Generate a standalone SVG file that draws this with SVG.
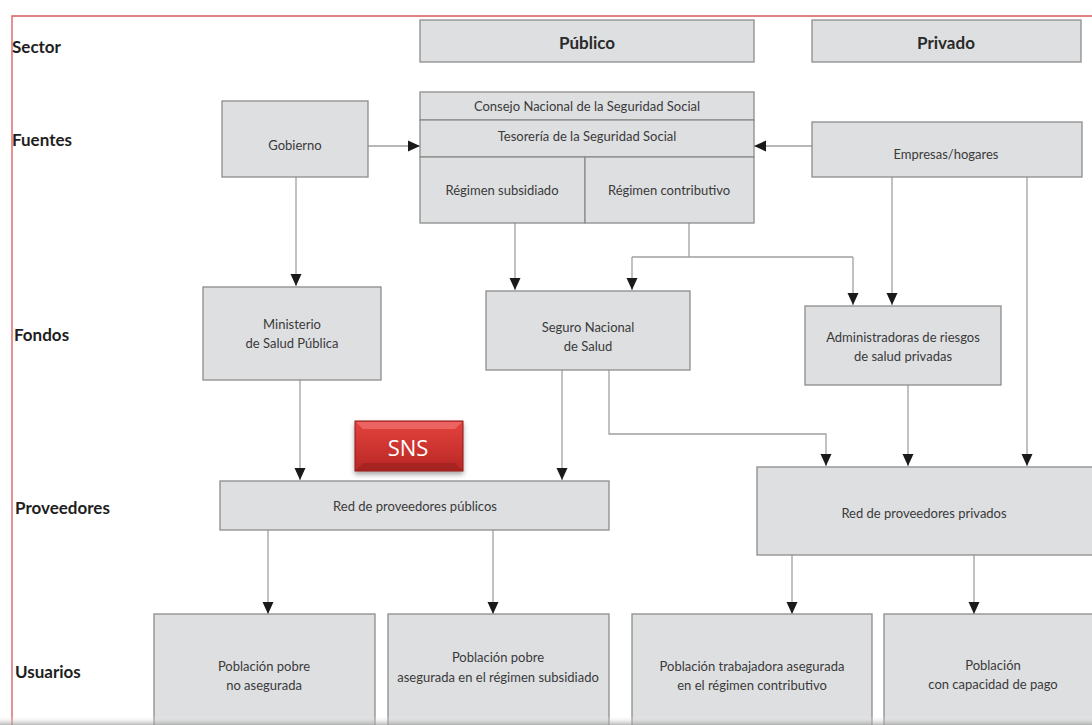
<svg xmlns="http://www.w3.org/2000/svg" width="1092" height="725" viewBox="0 0 1092 725">
<defs>
<style>
.box{fill:#dedfe1;stroke:#8c8c8c;stroke-width:1.3}
.t{font-family:Lato,"Open Sans",sans-serif;font-size:13px;fill:#3a3a3a;text-anchor:middle;dominant-baseline:central}
.lab{font-family:Lato,"Open Sans",sans-serif;font-size:17px;font-weight:bold;fill:#1e1e1e;dominant-baseline:central}
.hd{font-family:Lato,"Open Sans",sans-serif;font-size:17px;font-weight:bold;fill:#2a2a2a;text-anchor:middle;dominant-baseline:central}
.c{fill:none;stroke:#a0a0a0;stroke-width:1.3}
.ca{fill:none;stroke:#a0a0a0;stroke-width:1.3;marker-end:url(#ah)}
</style>
<marker id="ah" markerUnits="userSpaceOnUse" markerWidth="12" markerHeight="14" viewBox="0 0 12 14" refX="12" refY="7" orient="auto">
<path d="M0,1.5 L12,7 L0,12.5 Z" fill="#1a1a1a"/>
</marker>
<linearGradient id="red" x1="0" y1="0" x2="0" y2="1">
<stop offset="0" stop-color="#e5433f"/>
<stop offset="1" stop-color="#b82724"/>
</linearGradient>
<linearGradient id="shade" x1="0" y1="0" x2="0" y2="1">
<stop offset="0" stop-color="#ffffff" stop-opacity="0"/>
<stop offset="1" stop-color="#9a9a9a" stop-opacity="0.7"/>
</linearGradient>
<filter id="ds" x="-20%" y="-20%" width="140%" height="160%">
<feDropShadow dx="0" dy="3" stdDeviation="2.5" flood-color="#000" flood-opacity="0.35"/>
</filter>
</defs>
<rect width="1092" height="725" fill="#ffffff"/>
<path d="M12,725 L12,16 L1092,16" fill="none" stroke="#d9585a" stroke-width="1.3"/>
<g id="labels">
<text class="lab" x="12" y="46">Sector</text>
<text class="lab" x="12" y="139">Fuentes</text>
<text class="lab" x="14" y="334">Fondos</text>
<text class="lab" x="15" y="507">Proveedores</text>
<text class="lab" x="15" y="671">Usuarios</text>
</g>
<g id="connectors">
<path class="ca" d="M368,146 L420,146"/>
<path class="ca" d="M812,146 L754,146"/>
<path class="ca" d="M296,177 L296,286"/>
<path class="ca" d="M515,223 L515,290"/>
<path class="c" d="M689,223 L689,257 M632,257 L853,257"/>
<path class="ca" d="M632,257 L632,290"/>
<path class="ca" d="M853,257 L853,305"/>
<path class="ca" d="M892,177 L892,305"/>
<path class="ca" d="M1027,177 L1027,466"/>
<path class="ca" d="M300,380 L300,480"/>
<path class="ca" d="M562,370 L562,480"/>
<path class="ca" d="M609,370 L609,434 L826,434 L826,466"/>
<path class="ca" d="M908,385 L908,466"/>
<path class="ca" d="M268,530 L268,614"/>
<path class="ca" d="M493,530 L493,614"/>
<path class="ca" d="M792,555 L792,614"/>
<path class="ca" d="M974,555 L974,614"/>
</g>
<g id="publico"><rect class="box" x="420" y="20" width="334" height="42"/><text class="hd" x="587" y="42">Público</text></g>
<g id="privado"><rect class="box" x="812" y="20" width="269" height="42"/><text class="hd" x="946" y="42">Privado</text></g>
<g id="consejo"><rect class="box" x="420" y="92" width="334" height="28"/><text class="t" x="587" y="106">Consejo Nacional de la Seguridad Social</text></g>
<g id="tesoreria"><rect class="box" x="420" y="120" width="334" height="37"/><text class="t" x="587" y="136">Tesorería de la Seguridad Social</text></g>
<g id="subsidiado"><rect class="box" x="420" y="157" width="165" height="66"/><text class="t" x="502" y="190">Régimen subsidiado</text></g>
<g id="contributivo"><rect class="box" x="585" y="157" width="169" height="66"/><text class="t" x="669" y="190">Régimen contributivo</text></g>
<g id="gobierno"><rect class="box" x="222" y="101" width="146" height="76"/><text class="t" x="295" y="145">Gobierno</text></g>
<g id="empresas"><rect class="box" x="812" y="122" width="270" height="55"/><text class="t" x="946" y="154">Empresas/hogares</text></g>
<g id="ministerio"><rect class="box" x="203" y="287" width="178" height="93"/><text class="t" x="292" y="324">Ministerio</text><text class="t" x="292" y="343">de Salud Pública</text></g>
<g id="seguro"><rect class="box" x="486" y="291" width="204" height="79"/><text class="t" x="588" y="327">Seguro Nacional</text><text class="t" x="588" y="346">de Salud</text></g>
<g id="administradoras"><rect class="box" x="805" y="306" width="196" height="79"/><text class="t" x="903" y="337">Administradoras de riesgos</text><text class="t" x="903" y="356">de salud privadas</text></g>
<g id="sns">
<rect x="355" y="421" width="108" height="50" fill="url(#red)" stroke="#8e1a18" stroke-width="1" filter="url(#ds)"/>
<path d="M356,422 L462,422 L455,429 L363,429 Z" fill="#f07470" opacity="0.7"/>
<path d="M356,470 L462,470 L455,463 L363,463 Z" fill="#8f1d1b" opacity="0.5"/>
<text x="408" y="447" font-family="'Open Sans',Lato,sans-serif" font-size="22" fill="#ffffff" text-anchor="middle" dominant-baseline="central">SNS</text>
</g>
<g id="red-publicos"><rect class="box" x="220" y="481" width="389" height="49"/><text class="t" x="415" y="506">Red de proveedores públicos</text></g>
<g id="red-privados"><rect class="box" x="757" y="467" width="336" height="88"/><text class="t" x="924" y="513">Red de proveedores privados</text></g>
<g id="u1"><rect class="box" x="154" y="614" width="221" height="120"/><text class="t" x="264" y="666">Población pobre</text><text class="t" x="264" y="685">no asegurada</text></g>
<g id="u2"><rect class="box" x="388" y="614" width="221" height="120"/><text class="t" x="498" y="657">Población pobre</text><text class="t" x="498" y="677">asegurada en el régimen subsidiado</text></g>
<g id="u3"><rect class="box" x="632" y="614" width="240" height="120"/><text class="t" x="752" y="666">Población trabajadora asegurada</text><text class="t" x="752" y="685">en el régimen contributivo</text></g>
<g id="u4"><rect class="box" x="884" y="614" width="220" height="120"/><text class="t" x="993" y="665">Población</text><text class="t" x="993" y="684">con capacidad de pago</text></g>
<rect x="0" y="716" width="1092" height="9" fill="url(#shade)"/>
</svg>
